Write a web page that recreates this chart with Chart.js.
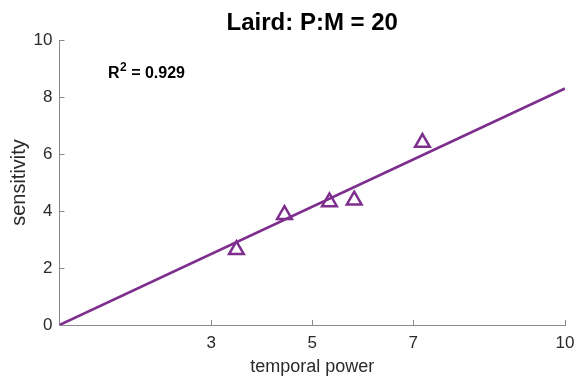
<!DOCTYPE html>
<html>
<head>
<meta charset="utf-8">
<script src="https://cdn.jsdelivr.net/npm/chart.js@4"></script>
<style>
  html, body { margin: 0; padding: 0; background: #ffffff; }
  #wrap { width: 584px; height: 378px; position: relative; }
</style>
</head>
<body>
<div id="wrap"><canvas id="c"></canvas></div>
<script>
// Labels
const chartTitle = 'Laird: P:M = 20';
const xAxisLabel = 'temporal power';
const yAxisLabel = 'sensitivity';
const rSquaredText = '0.929';

// Measured points
const temporalPower = [3.50, 4.45, 5.34, 5.83, 7.18];
const sensitivity   = [2.64, 3.87, 4.32, 4.38, 6.40];

// Fitted line end points
const fitX = [0, 10];
const fitY = [0, 8.3];

// Tick values
const xTicks = [3, 5, 7, 10];
const yTicks = [0, 2, 4, 6, 8, 10];

const purple = '#7E2F8E';
const axisGray = '#8a8a8a';
const textGray = '#2a2a2a';
const fontFamily = '"Liberation Sans", Arial, Helvetica, sans-serif';

// Inward tick marks, MATLAB style
const inwardTicks = {
  id: 'inwardTicks',
  afterDatasetsDraw(chart) {
    const {ctx, chartArea, scales} = chart;
    const len = 5;
    ctx.save();
    ctx.strokeStyle = axisGray;
    ctx.lineWidth = 1;
    ctx.beginPath();
    scales.x.ticks.forEach(t => {
      const px = Math.round(scales.x.getPixelForValue(t.value)) + 0.5;
      ctx.moveTo(px, chartArea.bottom);
      ctx.lineTo(px, chartArea.bottom - len);
    });
    scales.y.ticks.forEach(t => {
      const py = Math.round(scales.y.getPixelForValue(t.value)) + 0.5;
      ctx.moveTo(chartArea.left, py);
      ctx.lineTo(chartArea.left + len, py);
    });
    ctx.stroke();
    ctx.restore();
  }
};

// Title and R² annotation
const annotations = {
  id: 'annotations',
  afterDraw(chart) {
    const {ctx, chartArea} = chart;
    ctx.save();
    ctx.fillStyle = '#000';
    ctx.textBaseline = 'alphabetic';
    ctx.textAlign = 'center';
    ctx.font = 'bold 24px ' + fontFamily;
    ctx.fillText(chartTitle, (chartArea.left + chartArea.right) / 2, 30);

    ctx.textAlign = 'left';
    let x = 108, y = 78;
    ctx.font = 'bold 16px ' + fontFamily;
    ctx.fillText('R', x, y);
    x += ctx.measureText('R').width;
    ctx.font = 'bold 12px ' + fontFamily;
    ctx.fillText('2', x + 0.5, y - 7);
    x += ctx.measureText('2').width + 0.5;
    ctx.font = 'bold 16px ' + fontFamily;
    ctx.fillText(' = ' + rSquaredText, x, y);
    ctx.restore();
  }
};

new Chart(document.getElementById('c'), {
  data: {
    datasets: [
      {
        type: 'line',
        data: fitX.map((v, i) => ({x: v, y: fitY[i]})),
        borderColor: purple,
        borderWidth: 2.6,
        pointRadius: 0,
        fill: false,
        order: 2
      },
      {
        type: 'scatter',
        data: temporalPower.map((v, i) => ({x: v, y: sensitivity[i]})),
        pointStyle: 'triangle',
        pointRadius: 8.5,
        pointBorderWidth: 2.5,
        borderColor: purple,
        backgroundColor: 'rgba(0,0,0,0)',
        order: 1
      }
    ]
  },
  options: {
    responsive: true,
    maintainAspectRatio: false,
    animation: false,
    layout: { padding: { top: 40, right: 19, left: 0, bottom: 0 } },
    plugins: {
      legend: { display: false },
      tooltip: { enabled: false },
      title: { display: false }
    },
    scales: {
      x: {
        type: 'linear',
        min: 0,
        max: 10,
        afterBuildTicks: s => { s.ticks = xTicks.map(v => ({value: v})); },
        afterFit: s => { s.height = 53; },
        grid: { drawOnChartArea: false, drawTicks: false },
        border: { color: axisGray, width: 1 },
        ticks: {
          color: textGray,
          font: { family: fontFamily, size: 17 },
          padding: 8,
          maxRotation: 0
        },
        title: {
          display: true,
          text: xAxisLabel,
          color: textGray,
          font: { family: fontFamily, size: 18 },
          padding: { top: 0, bottom: 0 }
        }
      },
      y: {
        type: 'linear',
        min: 0,
        max: 10,
        afterBuildTicks: s => { s.ticks = yTicks.map(v => ({value: v})); },
        afterFit: s => { s.width = 59.5; },
        grid: { drawOnChartArea: false, drawTicks: false },
        border: { color: axisGray, width: 1 },
        ticks: {
          color: textGray,
          font: { family: fontFamily, size: 17 },
          padding: 7
        },
        title: {
          display: true,
          text: yAxisLabel,
          color: textGray,
          font: { family: fontFamily, size: 20 },
          padding: { top: 7, bottom: 0 }
        }
      }
    }
  },
  plugins: [inwardTicks, annotations]
});
</script>
</body>
</html>
